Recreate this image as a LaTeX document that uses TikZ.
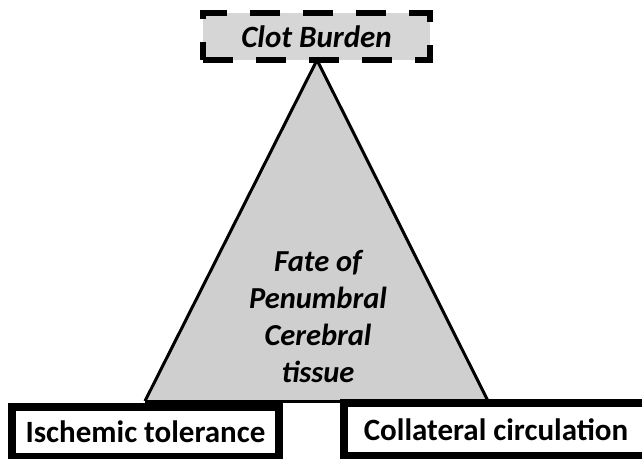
\documentclass[tikz,border=0pt]{standalone}
\usepackage{fontspec}
\setmainfont{Carlito}
\begin{document}
\begin{tikzpicture}[x=1pt,y=-1pt,
  lbl/.style={font=\fontsize{31}{37}\selectfont\bfseries},
  boxstyle/.style={draw=black,line width=7.5pt,fill=white,inner sep=0pt},
  clotstyle/.style={draw=black,line width=6pt,dash pattern=on 30pt off 23pt,fill=black!16,inner sep=0pt,
    font=\fontsize{31}{37}\selectfont\bfseries\itshape}]
\useasboundingbox (0,0) rectangle (642,458);
\clip (0,0) rectangle (642,458);
% triangle
\coordinate (apex) at (317,60);
\coordinate (bl) at (145,401);
\coordinate (br) at (488,401);
\fill[black!19] (apex) -- (bl) -- (br) -- cycle;
\draw[line width=3pt,line join=miter] (bl) -- (apex) -- (br);
\draw[line width=3pt] (bl) -- (br);
\node[font=\fontsize{30.5}{37}\selectfont\bfseries\itshape,align=center] (fate) at (318,317)
  {Fate of\\Penumbral\\Cerebral\\tissue};
% clot burden
\node[clotstyle,minimum width=227pt,minimum height=47pt] (clot) at (316.5,36.5) {Clot Burden};
% bottom boxes
\node[boxstyle,lbl,minimum width=267pt,minimum height=50pt] (isch) at (145.5,432) {Ischemic tolerance};
\node[boxstyle,lbl,minimum width=304pt,minimum height=53pt] (coll) at (496,429.5) {Collateral circulation};
\end{tikzpicture}
\end{document}
